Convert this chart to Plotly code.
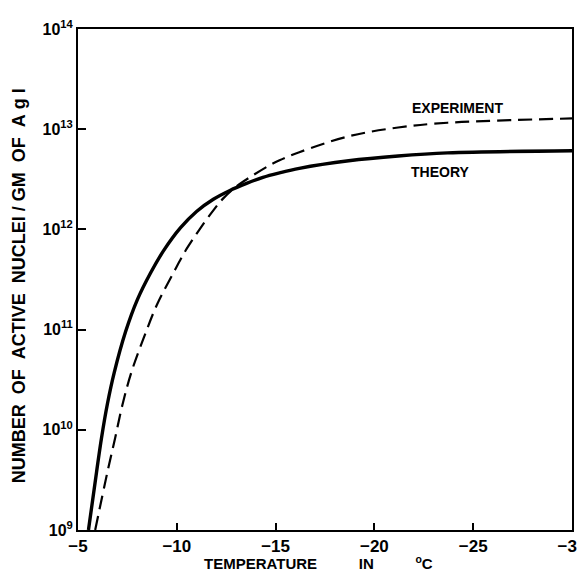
import plotly.graph_objects as go

# Temperature (deg C) and number of active nuclei per gram of AgI
theory_temp = [-5.53, -5.94, -6.19, -6.49, -6.83, -7.41, -8.0, -8.67, -9.34, -10.18,
               -11.0, -11.85, -12.69, -13.53, -14.36, -15.2, -16.2, -18.7, -21.2, -23.7, -30.0]
theory_nuclei = [1.0e9, 3.8e9, 8.3e9, 1.82e10, 3.7e10, 9.55e10, 1.98e11, 3.67e11, 6.17e11, 1.035e12,
                 1.51e12, 2.0e12, 2.45e12, 2.88e12, 3.31e12, 3.67e12, 4.07e12, 4.84e12, 5.4e12, 5.8e12, 6.1e12]

experiment_temp = [-5.87, -6.49, -6.88, -7.25, -7.71, -8.33, -9.0, -9.84, -10.51, -11.18,
                   -11.85, -12.35, -13.03, -13.86, -14.7, -15.2, -16.2, -18.7, -21.2, -23.7, -30.0]
experiment_nuclei = [1.0e9, 3.8e9, 8.3e9, 1.78e10, 3.8e10, 8.3e10, 1.78e11, 3.72e11, 6.46e11, 1.02e12,
                     1.55e12, 2.04e12, 2.69e12, 3.47e12, 4.37e12, 4.9e12, 5.9e12, 8.5e12, 1.04e13, 1.16e13, 1.28e13]

x_ticks = [-5, -10, -15, -20, -25, -30]
x_tick_text = ["\u22125", "\u221210", "\u221215", "\u221220", "\u221225", "\u221230"]
y_ticks = [1e9, 1e10, 1e11, 1e12, 1e13, 1e14]
y_tick_text = ["10<sup>9</sup>", "10<sup>10</sup>", "10<sup>11</sup>",
               "10<sup>12</sup>", "10<sup>13</sup>", "10<sup>14</sup>"]

FONT = "Liberation Sans"

fig = go.Figure()
fig.add_trace(go.Scatter(
    x=experiment_temp, y=experiment_nuclei, mode="lines", name="EXPERIMENT",
    line=dict(color="black", width=2.2, dash="14px,7px", shape="spline", smoothing=1.0),
))
fig.add_trace(go.Scatter(
    x=theory_temp, y=theory_nuclei, mode="lines", name="THEORY",
    line=dict(color="black", width=3.4, shape="spline", smoothing=1.0),
))

# the page body adds an 8px offset, so the figure is sized/margined to compensate
fig.update_layout(
    width=577, height=564,
    margin=dict(l=70, r=13, t=21, b=42),
    paper_bgcolor="white", plot_bgcolor="white",
    showlegend=False,
    font=dict(family=FONT, color="black"),
)
fig.update_xaxes(
    range=[-5, -30], tickvals=x_ticks, ticktext=x_tick_text,
    showgrid=False, zeroline=False,
    showline=True, linecolor="black", linewidth=2, mirror=True,
    ticks="inside", ticklen=7, tickwidth=2, tickcolor="black",
    tickfont=dict(family=FONT, size=17, weight="bold"),
    ticklabeloverflow="allow",
    automargin=False,
)
fig.update_yaxes(
    type="log", range=[9, 14], tickvals=y_ticks, ticktext=y_tick_text,
    showgrid=False, zeroline=False,
    showline=True, linecolor="black", linewidth=2, mirror=True,
    ticks="inside", ticklen=8, tickwidth=2, tickcolor="black",
    tickfont=dict(family=FONT, size=16, weight="bold"),
    ticklabeloverflow="allow",
    automargin=False,
)

sp = "\u00a0"
fig.add_annotation(
    text="TEMPERATURE" + sp * 10 + "IN" + sp * 10 + "<sup>o</sup>C",
    xref="paper", yref="paper", x=0.486, y=-0.064, showarrow=False,
    xanchor="center", yanchor="middle",
    font=dict(family=FONT, size=15, weight="bold"),
)
fig.add_annotation(
    text=("NUMBER" + sp * 2 + "OF" + sp * 2 + "ACTIVE" + sp * 2 + "NUCLEI" + sp + "/" + sp + "GM"
          + sp * 2 + "OF" + sp * 2 + "A" + sp + "g" + sp + "I"),
    xref="paper", yref="paper", x=-0.119, y=0.487, showarrow=False, textangle=-90,
    xanchor="center", yanchor="middle",
    font=dict(family=FONT, size=18, weight="bold"),
)
fig.add_annotation(
    text="EXPERIMENT", xref="paper", yref="paper", x=0.769, y=0.842,
    showarrow=False, xanchor="center", yanchor="middle",
    font=dict(family=FONT, size=14, weight="bold"),
)
fig.add_annotation(
    text="THEORY", xref="paper", yref="paper", x=0.733, y=0.715,
    showarrow=False, xanchor="center", yanchor="middle",
    font=dict(family=FONT, size=14, weight="bold"),
)

fig.write_html("out.html")
